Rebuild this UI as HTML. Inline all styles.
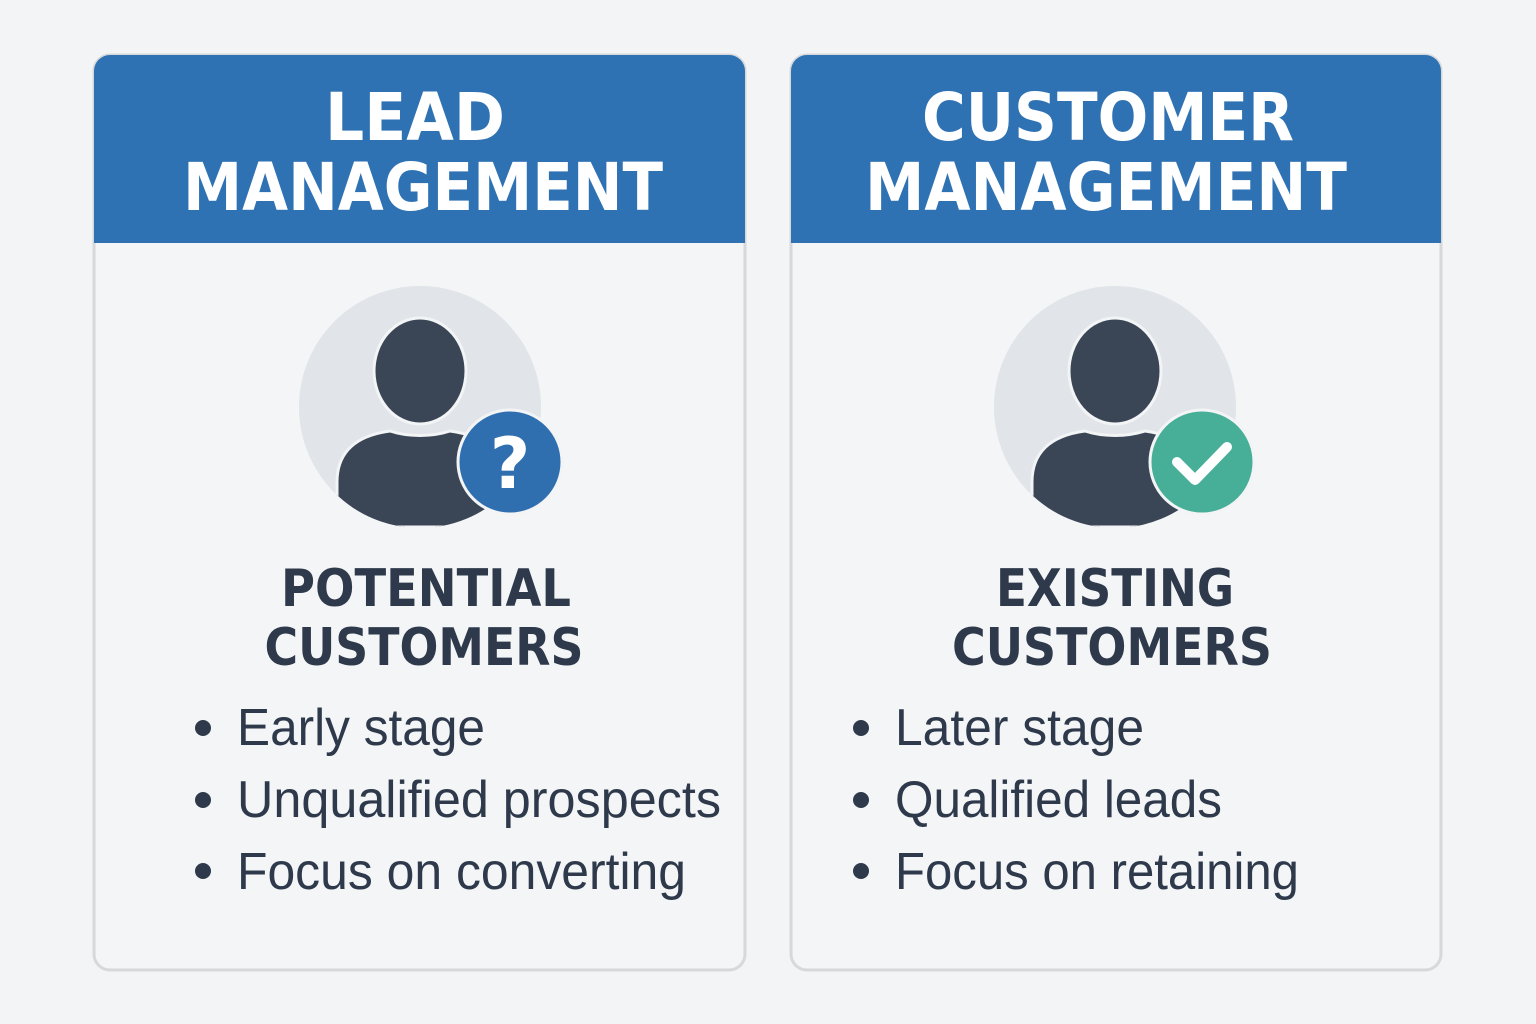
<!DOCTYPE html>
<html><head><meta charset="utf-8"><style>html,body{margin:0;padding:0;background:#f3f4f5;}svg{display:block}</style></head>
<body>
<svg width="1536" height="1024" viewBox="0 0 1536 1024" xmlns="http://www.w3.org/2000/svg">
<rect width="1536" height="1024" fill="#f3f4f5"/>
<defs>
<g id="person">
  <circle cx="0" cy="0" r="121" fill="#e1e5e9"/>
  <ellipse cx="0" cy="-36" rx="46" ry="53" fill="#3a4656" stroke="#f3f4f5" stroke-width="3"/>
  <path d="M-83 120 L-83 75 C-83 42 -60 28 -30 24 C-12 30 12 30 30 24 C60 28 83 42 83 75 L83 120 Z" fill="#3a4656" stroke="#f3f4f5" stroke-width="3"/>
</g>
</defs>
<!-- cards -->
<g>
  <rect x="94" y="55" width="651" height="915" rx="16" fill="#f4f5f6" stroke="#d6d8db" stroke-width="3"/>
  <path d="M94 243 V71 A16 16 0 0 1 110 55 H729 A16 16 0 0 1 745 71 V243 Z" fill="#2f72b4"/>
  <rect x="791" y="55" width="650" height="915" rx="16" fill="#f4f5f6" stroke="#d6d8db" stroke-width="3"/>
  <path d="M791 243 V71 A16 16 0 0 1 807 55 H1425 A16 16 0 0 1 1441 71 V243 Z" fill="#2f72b4"/>
</g>
<g font-family="'DejaVu Sans','Liberation Sans',sans-serif" font-weight="bold" fill="#ffffff" font-size="66">
  <text x="415" y="140" text-anchor="middle" textLength="180" lengthAdjust="spacingAndGlyphs">LEAD</text>
  <text x="423" y="210" text-anchor="middle" textLength="480" lengthAdjust="spacingAndGlyphs">MANAGEMENT</text>
  <text x="1108" y="140" text-anchor="middle" textLength="372" lengthAdjust="spacingAndGlyphs">CUSTOMER</text>
  <text x="1106" y="210" text-anchor="middle" textLength="482" lengthAdjust="spacingAndGlyphs">MANAGEMENT</text>
</g>
<!-- icons -->
<g>
  <clipPath id="c1"><circle cx="420" cy="407" r="121"/></clipPath>
  <circle cx="420" cy="407" r="121" fill="#e1e5e9"/>
  <g clip-path="url(#c1)"><use href="#person" x="420" y="407"/></g>
  <circle cx="510" cy="462" r="52" fill="#2f6fb0" stroke="#f3f4f5" stroke-width="3"/>
  <text x="510" y="488" text-anchor="middle" font-family="'DejaVu Sans',sans-serif" font-weight="bold" font-size="70" fill="#fff">?</text>

  <clipPath id="c2"><circle cx="1115" cy="407" r="121"/></clipPath>
  <circle cx="1115" cy="407" r="121" fill="#e1e5e9"/>
  <g clip-path="url(#c2)"><use href="#person" x="1115" y="407"/></g>
  <circle cx="1202" cy="462" r="52" fill="#47ae97" stroke="#f3f4f5" stroke-width="3"/>
  <path d="M1177 462 L1195 480 L1227 447" fill="none" stroke="#fff" stroke-width="10" stroke-linecap="round" stroke-linejoin="round"/>
</g>
<!-- subtitles -->
<g font-family="'DejaVu Sans','Liberation Sans',sans-serif" font-weight="bold" fill="#2e3a4b" font-size="52">
  <text x="426" y="606" text-anchor="middle" textLength="290" lengthAdjust="spacingAndGlyphs">POTENTIAL</text>
  <text x="424" y="665" text-anchor="middle" textLength="319" lengthAdjust="spacingAndGlyphs">CUSTOMERS</text>
  <text x="1115" y="606" text-anchor="middle" textLength="238" lengthAdjust="spacingAndGlyphs">EXISTING</text>
  <text x="1112" y="665" text-anchor="middle" textLength="320" lengthAdjust="spacingAndGlyphs">CUSTOMERS</text>
</g>
<!-- bullets -->
<g fill="#2e3a4b">
  <circle cx="203" cy="728" r="8"/><circle cx="203" cy="800" r="8"/><circle cx="203" cy="871" r="8"/>
  <circle cx="861" cy="728" r="8"/><circle cx="861" cy="800" r="8"/><circle cx="861" cy="871" r="8"/>
</g>
<g font-family="'Liberation Sans',sans-serif" fill="#2e3a4b" font-size="52">
  <text x="237" y="745" textLength="248" lengthAdjust="spacingAndGlyphs">Early stage</text>
  <text x="237" y="817" textLength="484" lengthAdjust="spacingAndGlyphs">Unqualified prospects</text>
  <text x="237" y="889" textLength="449" lengthAdjust="spacingAndGlyphs">Focus on converting</text>
  <text x="895" y="745" textLength="249" lengthAdjust="spacingAndGlyphs">Later stage</text>
  <text x="895" y="817" textLength="327" lengthAdjust="spacingAndGlyphs">Qualified leads</text>
  <text x="895" y="889" textLength="404" lengthAdjust="spacingAndGlyphs">Focus on retaining</text>
</g>
</svg>
</body></html>
